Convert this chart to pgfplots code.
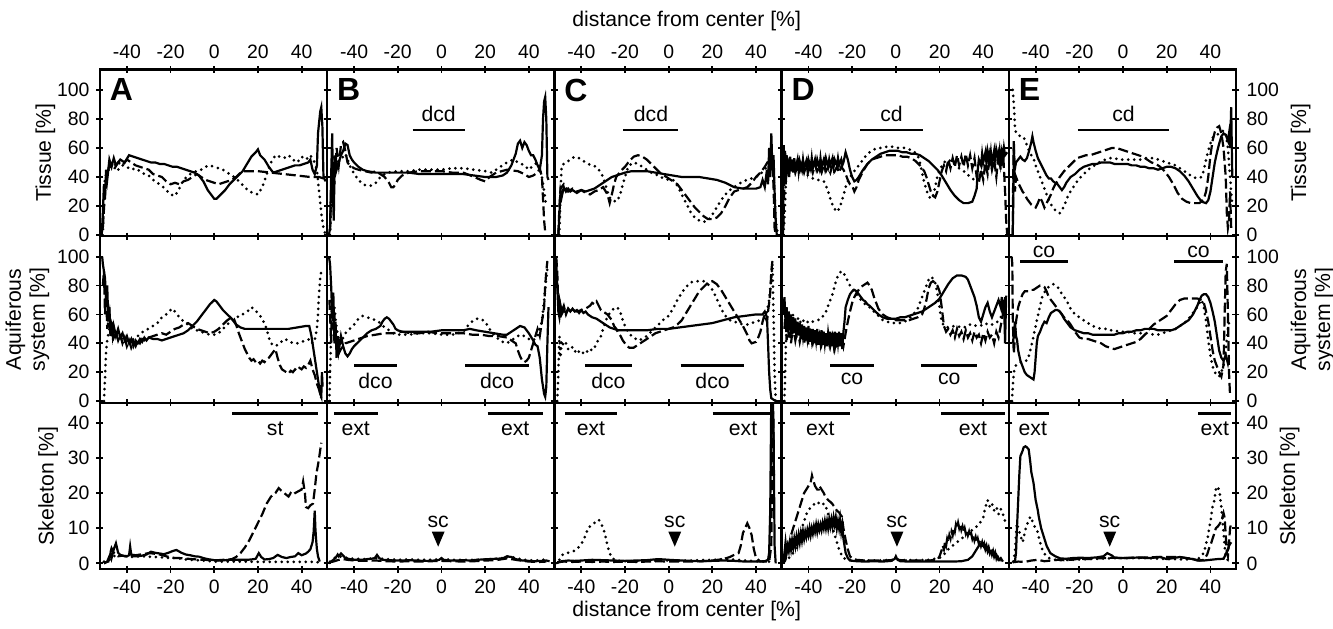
\documentclass[border=0pt]{standalone}
\usepackage{fontspec}
\setmainfont{Liberation Sans}
\usepackage{pgfplots}
\pgfplotsset{compat=1.18}

\pgfplotsset{
  panel/.style={
    scale only axis, width=113.6pt, height=83.3pt,
    anchor=north west,
    xmin=-52.3, xmax=51.7, xtick={-40,-20,0,20,40},
    tick align=center, xtick pos=both, ytick pos=both,
    axis line style={line width=1.1pt},
    major tick style={line width=0.9pt, black},
    major tick length=3.5pt,
    /pgf/number format/assume math mode=true,
    tick label style={font=\fontsize{9.7}{10}\selectfont},
    every axis label/.append style={font=\fontsize{10.6}{12}\selectfont},
  },
  toprow/.style={ymin=-0.7, ymax=114, ytick={0,20,...,100}, xticklabel pos=upper},
  midrow/.style={ymin=-1.1, ymax=114.2, ytick={0,20,...,100}, xticklabels={}},
  botrow/.style={ymin=-1.7, ymax=45.7, ytick={0,10,...,40}, xticklabel pos=lower},
  inner/.style={yticklabels={}},
  rightcol/.style={yticklabel pos=upper},
  sol/.style={black, line width=1.1pt},
  dsh/.style={black, line width=1.1pt, dash pattern=on 5pt off 2pt},
  dtt/.style={black, line width=1.5pt, dash pattern=on 0pt off 3pt, line cap=round},
}
\newcommand{\seg}[5]{\draw[line width=1.2pt] (axis cs:#1,#3) -- (axis cs:#2,#3) node[midway,#4,font=\fontsize{10.6}{12}\selectfont]{#5};}
\newcommand{\letter}[1]{\node[anchor=north west, inner sep=0pt, font=\bfseries\fontsize{16}{16}\selectfont] at ([xshift=4.8pt,yshift=-4.5pt]rel axis cs:0,1) {#1};}
\newcommand{\scmark}[1]{\fill (axis cs:#1,9) ++(-3.2pt,0pt) -- ++(6.4pt,0pt) -- ++(-3.2pt,-7.5pt) -- cycle;
  \node[font=\fontsize{10.6}{12}\selectfont] at (axis cs:#1,11.9) {sc};}

\begin{document}
\begin{tikzpicture}
% ---------------- row 1: Tissue ----------------
\begin{axis}[panel, toprow, at={(0pt,0pt)}, ylabel={Tissue [\%]}, ylabel shift=-6pt]
\addplot[sol] coordinates {(-51.5,0) (-51,15) (-50.5,35) (-50,25) (-49.5,45) (-49,38) (-48,52) (-47,47) (-46,53) (-45,48) (-43,52) (-41,50) (-39,55) (-37,54) (-35,53) (-33,52) (-31,51) (-29,50) (-27,50) (-25,49) (-23,49) (-21,48) (-19,47) (-17,47) (-15,46) (-13,45) (-11,44) (-9,43) (-7,41) (-5,37) (-3,31) (-1,27) (0,25) (1,25) (3,28) (5,31) (7,35) (9,38) (11,41) (13,44) (15,49) (17,54) (19,57) (20,59) (21,55) (23,52) (25,47) (27,43) (29,44) (31,45) (33,46) (35,47) (37,48) (39,48) (41,49) (43,50) (44,52) (45,45) (46,42) (47,48) (47.5,70) (48.5,85) (49,88) (49.5,75) (50,40) (51,37)};
\addplot[dsh] coordinates {(-51,5) (-50,30) (-49,42) (-48,48) (-46,45) (-44,50) (-42,48) (-40,52) (-38,50) (-36,48) (-34,47) (-32,46) (-30,45) (-28,42) (-26,41) (-24,40) (-22,37) (-20,35) (-18,36) (-16,35) (-14,37) (-12,38) (-10,40) (-8,42) (-6,40) (-4,38) (-2,37) (0,36) (2,35) (4,36) (6,37) (8,38) (10,40) (12,43) (14,44) (20,44) (26,43) (32,42) (38,41) (44,40) (48,40) (50,39) (51,37)};
\addplot[dtt] coordinates {(-51,0) (-50.5,25) (-50,40) (-48,46) (-46,50) (-44,45) (-42,48) (-40,47) (-38,45) (-36,46) (-34,44) (-32,42) (-30,41) (-28,38) (-26,36) (-24,34) (-22,31) (-20,28) (-18,27) (-16,32) (-14,38) (-12,41) (-10,43) (-8,44) (-6,45) (-4,47) (-2,48) (0,47) (2,46) (4,45) (6,43) (8,41) (10,39) (12,36) (14,33) (16,30) (18,29) (20,28) (22,33) (24,42) (26,50) (28,55) (30,54) (32,53) (34,55) (36,52) (38,50) (40,54) (42,52) (44,55) (46,50) (47,45) (48,30) (49,15) (50,5) (51,0)};
\letter{A}
\end{axis}

\begin{axis}[panel, toprow, inner, at={(113.6pt,0pt)}]
\addplot[sol] coordinates {(-51.5,0) (-51,5) (-50.5,40) (-50,70) (-49.7,30) (-49.3,10) (-49,40) (-48.5,55) (-48,45) (-47,50) (-46,55) (-45,58) (-44,63) (-43,62) (-42,55) (-41,52) (-40,50) (-38,47) (-36,45) (-34,44) (-30,43) (-25,43) (-20,43) (-15,43) (-10,42) (-5,42) (0,42) (5,42) (10,42) (15,41) (20,40) (25,40) (28,41) (30,43) (32,48) (34,56) (35,63) (36,65) (37,60) (38,64) (39,62) (40,58) (41,55) (42,55) (43,52) (44,48) (45,45) (46,55) (46.5,80) (47,92) (47.5,95) (48,80) (48.5,40) (49,38)};
\addplot[dsh] coordinates {(-51,3) (-50.5,30) (-50,55) (-49,35) (-48,60) (-47,48) (-46,62) (-45,64) (-44,58) (-43,50) (-42,48) (-40,46) (-38,45) (-35,44) (-32,43) (-30,44) (-28,42) (-26,40) (-24,36) (-23,33) (-22,33) (-21,35) (-20,38) (-18,41) (-15,43) (-10,44) (-5,44) (0,44) (5,43) (10,43) (15,40) (18,38) (20,37) (22,40) (25,43) (30,45) (35,44) (38,42) (40,40) (42,41) (44,43) (45,46) (46,40) (46.5,25) (47,10) (47.5,2)};
\addplot[dtt] coordinates {(-51,0) (-50.5,20) (-50,45) (-49,55) (-48,50) (-46,52) (-44,56) (-42,48) (-40,42) (-38,38) (-36,35) (-34,34) (-32,34) (-30,36) (-28,40) (-25,43) (-20,44) (-15,44) (-10,45) (-5,45) (0,45) (5,46) (10,46) (15,45) (20,44) (23,43) (25,45) (28,48) (30,50) (33,52) (35,50) (38,48) (40,45) (42,48) (44,50) (45,45) (46,40) (47,30) (48,20)};
\seg{-13.2}{10.6}{72.4}{above}{dcd}
\letter{B}
\end{axis}

\begin{axis}[panel, toprow, inner, at={(227.2pt,0pt)}]
\addplot[sol] coordinates {(-50.5,0) (-50,15) (-49.5,30) (-49,26) (-48,33) (-47,30) (-46,32) (-45,30) (-44,31) (-42,29) (-40,31) (-38,30) (-36,31) (-34,32) (-32,34) (-30,36) (-28,38) (-26,40) (-24,41) (-22,42) (-20,43) (-17,44) (-14,44) (-10,44) (-6,43) (-2,42) (2,41) (6,40) (10,40) (14,40) (18,39) (22,38) (26,36) (30,33) (34,32) (38,32) (40,32) (42,33) (43,38) (44,33) (45,45) (45.5,35) (46,60) (46.5,40) (47,70) (47.5,45) (48,55) (48.5,30) (49,10) (49.5,0)};
\addplot[dsh] coordinates {(-50.5,0) (-50,20) (-49.5,32) (-48,35) (-46,30) (-44,32) (-42,30) (-40,31) (-38,29) (-36,28) (-34,30) (-32,31) (-30,33) (-28,28) (-27,22) (-26,28) (-25,35) (-24,40) (-22,44) (-20,47) (-18,51) (-16,54) (-14,55) (-12,54) (-10,52) (-8,49) (-6,46) (-4,43) (-2,41) (0,39) (2,37) (4,35) (6,31) (8,27) (10,23) (12,19) (14,16) (16,13) (18,11) (20,11) (22,12) (24,15) (26,20) (28,26) (30,30) (32,31) (34,32) (36,33) (38,36) (40,40) (42,43) (44,47) (46,52) (47,60) (48,35) (48.5,5) (49,0)};
\addplot[dtt] coordinates {(-50,0) (-49.5,30) (-49,48) (-47,50) (-45,52) (-43,54) (-41,53) (-39,51) (-37,49) (-35,48) (-33,47) (-31,43) (-30,40) (-29,35) (-28,30) (-27,26) (-26,24) (-24,23) (-23,25) (-22,29) (-21,35) (-20,40) (-19,45) (-18,48) (-16,50) (-14,49) (-12,47) (-10,45) (-8,43) (-6,42) (-4,40) (-2,39) (0,38) (2,38) (4,34) (6,28) (8,22) (10,16) (12,12) (14,10) (16,9) (18,10) (20,14) (22,19) (24,24) (26,28) (28,31) (30,33) (32,35) (34,37) (36,38) (38,39) (40,40) (42,42) (44,45) (46,50) (47,55) (48,40) (49,10) (50,0)};
\seg{-20.7}{4.5}{72.4}{above}{dcd}
\letter{C}
\end{axis}

\begin{axis}[panel, toprow, inner, at={(340.8pt,0pt)}]
\addplot[sol] coordinates {(-51.7,0) (-51.3,62) (-51,40) (-50.7,58) (-50.4,35) (-50,55) (-49.6,42) (-49.2,52) (-48.8,40) (-48.4,54) (-48,44) (-47.5,52) (-47,43) (-46.5,53) (-46,45) (-45,52) (-44.5,44) (-44,51) (-43,45) (-42.5,52) (-42,46) (-41,51) (-40.5,45) (-40,52) (-39,46) (-38.5,53) (-38,46) (-37,52) (-36.5,47) (-36,52) (-35,46) (-34.5,53) (-34,47) (-33,52) (-32.5,47) (-32,53) (-31,47) (-30.5,52) (-30,48) (-29,53) (-28.5,47) (-28,52) (-27,48) (-26.5,53) (-26,48) (-25,52) (-24.5,48) (-24,50) (-23,57) (-22,52) (-21,45) (-20,40) (-19,37) (-18,38) (-17,40) (-15,45) (-13,49) (-11,52) (-9,54) (-7,56) (-5,57) (-3,58) (-1,58) (1,58) (3,57) (5,57) (7,56) (9,56) (11,55) (13,53) (15,51) (17,48) (19,45) (21,41) (23,36) (25,31) (27,27) (29,24) (31,22) (33,22) (35,23) (36,27) (37,32) (37.5,45) (38,52) (39,48) (39.5,56) (40,50) (41,57) (41.5,49) (42,58) (43,50) (43.5,57) (44,49) (45,58) (45.5,50) (46,59) (47,52) (47.5,58) (48,50) (48.5,57) (49,52) (49.5,60) (50,55) (51,57)};
\addplot[dsh] coordinates {(-51.5,5) (-51,40) (-50.5,50) (-50,42) (-49,50) (-48,44) (-47,49) (-46,43) (-45,48) (-44,44) (-43,49) (-42,43) (-41,48) (-40,44) (-39,49) (-38,43) (-37,48) (-36,44) (-35,47) (-34,43) (-33,48) (-32,44) (-31,47) (-30,43) (-29,48) (-28,44) (-27,47) (-26,43) (-25,47) (-24,45) (-23,42) (-22,38) (-21,35) (-20,34) (-19,30) (-18,33) (-17,38) (-15,44) (-13,49) (-11,52) (-9,53) (-7,54) (-5,55) (-3,55) (-1,55) (1,55) (3,54) (5,54) (7,53) (9,51) (11,48) (13,44) (14,40) (15,35) (16,30) (17,27) (18,26) (19,30) (20,37) (21,44) (22,48) (23,44) (24,52) (25,46) (26,53) (27,47) (28,55) (29,48) (30,54) (31,47) (32,56) (33,48) (34,55) (35,46) (36,53) (37,40) (38,36) (39,45) (40,38) (41,50) (42,42) (43,55) (44,45) (45,52) (46,40) (47,55) (48,45) (49,60) (50,30) (50.5,10) (51,0)};
\addplot[dtt] coordinates {(-51.5,0) (-51,10) (-50.5,30) (-50,50) (-49,46) (-47,48) (-45,45) (-43,44) (-41,42) (-39,40) (-37,38) (-35,38) (-33,37) (-32,34) (-31,30) (-30,25) (-29,21) (-28,18) (-27,16) (-26,18) (-25,22) (-24,27) (-23,33) (-22,37) (-20,42) (-18,46) (-16,50) (-14,54) (-12,57) (-10,59) (-8,60) (-6,60) (-4,61) (-2,61) (0,60) (2,60) (4,60) (6,59) (8,58) (10,55) (11,50) (12,43) (13,36) (14,31) (15,27) (16,25) (17,27) (18,33) (19,40) (20,45) (22,50) (24,52) (26,50) (28,47) (30,45) (32,43) (34,40) (36,38) (38,42) (40,45) (42,47) (44,50) (46,52) (48,55) (50,58)};
\seg{-16.3}{12.3}{72.4}{above}{cd}
\letter{D}
\end{axis}

\begin{axis}[panel, toprow, rightcol, at={(454.4pt,0pt)}, ylabel={Tissue [\%]}, ylabel shift=-1pt]
\addplot[sol] coordinates {(-50.5,0) (-50.2,30) (-50,60) (-49.6,45) (-49,50) (-48,52) (-47,54) (-46,52) (-45,51) (-44,53) (-43,58) (-42,64) (-41.5,68) (-41,64) (-40,58) (-39,53) (-38,50) (-37,47) (-36,44) (-35,41) (-34,39) (-33,39) (-32,37) (-31,36) (-30,35) (-29,33) (-28,31) (-27,33) (-26,36) (-25,38) (-24,40) (-22,42) (-20,45) (-18,47) (-16,48) (-14,49) (-12,49) (-10,50) (-8,50) (-6,50) (-4,49) (-2,49) (0,49) (2,49) (4,48) (6,48) (8,47) (10,47) (12,46) (14,46) (16,45) (18,46) (20,47) (22,47) (24,46) (26,44) (28,41) (30,37) (32,32) (34,27) (36,23) (38,22) (39,24) (40,30) (41,40) (42,50) (43,57) (44,63) (45,68) (46,70) (47,69) (48,65) (48.5,70) (49,60) (49.5,88) (50,40)};
\addplot[dsh] coordinates {(-50.5,0) (-50.3,40) (-50,65) (-49.5,30) (-49,40) (-48,36) (-47,33) (-46,30) (-45,28) (-44,25) (-43,23) (-42,21) (-41,20) (-40,19) (-39,22) (-38,26) (-37,23) (-36,19) (-35,22) (-34,25) (-33,28) (-32,32) (-31,35) (-30,37) (-29,40) (-27,44) (-25,47) (-23,50) (-21,53) (-19,54) (-17,55) (-15,55) (-13,56) (-11,57) (-9,58) (-7,59) (-5,60) (-3,60) (-1,59) (1,58) (3,57) (5,56) (7,55) (9,54) (11,52) (13,50) (15,49) (17,47) (19,44) (21,40) (23,35) (25,29) (27,25) (29,23) (31,22) (33,22) (35,22) (37,25) (38,30) (39,40) (40,55) (41,65) (42,71) (43,74) (44,75) (45,70) (46,60) (47,40) (47.5,15) (48,5) (48.5,10) (49,30) (49.5,5)};
\addplot[dtt] coordinates {(-50.5,100) (-50,90) (-49.5,75) (-49,70) (-48,69) (-47,68) (-46,68) (-45,66) (-44,62) (-43,58) (-42,55) (-41,53) (-40,48) (-39,44) (-38,40) (-37,36) (-36,32) (-35,28) (-34,24) (-33,21) (-32,19) (-31,17) (-30,16) (-29,15) (-28,17) (-27,20) (-26,24) (-25,28) (-24,30) (-22,35) (-20,39) (-18,42) (-16,45) (-14,47) (-12,49) (-10,51) (-8,52) (-6,53) (-4,53) (-2,52) (0,52) (2,52) (4,52) (6,52) (8,52) (10,53) (12,53) (14,53) (16,52) (18,51) (20,50) (22,49) (24,48) (26,46) (28,44) (30,42) (32,40) (34,39) (36,40) (37,45) (38,52) (39,58) (40,63) (41,67) (42,68) (44,70) (46,72) (47,70) (48,60) (49,40) (50,20)};
\seg{-20.7}{21.1}{72.4}{above}{cd}
\letter{E}
\end{axis}

% ---------------- row 2: Aquiferous system ----------------
\begin{axis}[panel, midrow, at={(0pt,-83.3pt)}, ylabel={Aquiferous\\system [\%]}, ylabel style={align=center}, ylabel shift=-3pt]
\addplot[sol] coordinates {(-51.3,100) (-51,95) (-50.5,90) (-50,85) (-49.5,70) (-49,80) (-48.5,55) (-48,65) (-47.5,45) (-47,55) (-46.5,46) (-46,52) (-45,45) (-44,50) (-43,44) (-42,47) (-41,42) (-40,45) (-39,40) (-38,43) (-37,38) (-36,42) (-35,40) (-34,43) (-33,41) (-32,44) (-31,42) (-30,44) (-28,43) (-26,43) (-24,42) (-22,43) (-20,44) (-18,45) (-16,46) (-14,47) (-12,49) (-10,52) (-8,55) (-6,59) (-4,63) (-2,67) (0,70) (1,69) (2,67) (4,63) (6,60) (8,57) (10,53) (12,51) (14,50) (18,50) (22,50) (26,50) (30,50) (34,50) (38,51) (42,52) (43.5,52) (44.5,45) (45.5,35) (46.5,25) (47.5,15) (48,10) (48.5,5) (49,3) (49.3,20) (49.6,10)};
\addplot[dsh] coordinates {(-51,80) (-50.5,90) (-50,60) (-49.5,75) (-49,50) (-48,60) (-47.5,45) (-47,52) (-46,44) (-45,48) (-44,42) (-43,46) (-42,40) (-41,44) (-40,38) (-39,42) (-38,37) (-37,41) (-36,38) (-35,42) (-34,40) (-33,43) (-32,42) (-30,44) (-28,45) (-26,46) (-24,47) (-22,46) (-20,48) (-18,50) (-16,51) (-14,53) (-12,54) (-10,52) (-8,50) (-6,49) (-4,48) (-2,47) (0,48) (2,50) (4,53) (6,56) (8,58) (9,57) (10,53) (11,48) (12,44) (13,40) (14,36) (15,33) (16,30) (17,28) (18,29) (19,27) (20,28) (21,26) (22,28) (23,27) (24,29) (25,30) (26,32) (27,34) (28,36) (29,30) (30,25) (31,22) (32,21) (33,20) (34,19) (35,21) (36,20) (37,22) (38,21) (39,23) (40,22) (41,24) (42,23) (43,25) (44,28) (45,22) (46,18) (47,12) (48,8) (48.5,5) (49,2)};
\addplot[dtt] coordinates {(-50.5,0) (-50,15) (-49.5,35) (-49,42) (-48,50) (-47,45) (-46,48) (-44,44) (-42,43) (-40,42) (-38,42) (-36,44) (-34,46) (-32,49) (-30,50) (-28,52) (-26,54) (-24,58) (-22,60) (-20,63) (-19,64) (-18,62) (-16,58) (-14,55) (-12,53) (-10,50) (-8,49) (-6,48) (-4,47) (-2,46) (0,46) (2,47) (4,50) (6,53) (8,56) (10,58) (12,59) (14,61) (16,63) (17,65) (18,64) (20,61) (22,57) (24,50) (25,44) (26,40) (28,38) (30,40) (32,43) (34,42) (36,40) (38,40) (40,41) (42,42) (44,43) (45,40) (46,42) (47,50) (47.5,60) (48,75) (48.5,85) (49,90)};
\end{axis}

\begin{axis}[panel, midrow, inner, at={(113.6pt,-83.3pt)}]
\addplot[sol] coordinates {(-51.5,100) (-51,95) (-50.5,80) (-50,60) (-49.5,75) (-49,40) (-48.5,55) (-48,30) (-47.5,45) (-47,35) (-46,45) (-45,38) (-44,33) (-43,31) (-42,33) (-41,36) (-40,38) (-38,41) (-36,44) (-34,47) (-32,49) (-30,50) (-28,52) (-27,55) (-26,57) (-25,58) (-24,57) (-23,55) (-22,53) (-21,50) (-20,49) (-18,48) (-15,48) (-10,48) (-5,48) (0,49) (5,49) (10,49) (13,50) (16,49) (20,48) (24,47) (28,46) (30,46) (32,48) (34,50) (36,52) (38,51) (40,47) (42,42) (43,39) (44,38) (45,30) (46,15) (47,5) (47.5,3) (48,10) (48.5,40) (49,65)};
\addplot[dsh] coordinates {(-51.3,70) (-51,60) (-50.5,40) (-50,75) (-49.5,50) (-49,60) (-48.5,40) (-48,45) (-47,33) (-46,36) (-45,38) (-44,40) (-42,41) (-40,42) (-38,43) (-36,44) (-34,45) (-30,46) (-26,47) (-22,47) (-18,48) (-14,47) (-10,47) (-6,48) (-2,47) (2,47) (6,47) (10,47) (14,46) (18,46) (22,45) (26,45) (30,44) (32,42) (34,40) (35,35) (36,31) (37,28) (38,27) (39,28) (40,30) (41,35) (42,40) (43,45) (44,50) (45,45) (46,55) (47,65) (47.5,80) (48,90) (48.5,97)};
\addplot[dtt] coordinates {(-51.3,0) (-51,20) (-50.5,45) (-50,70) (-49.5,55) (-49,65) (-48,50) (-47,43) (-46,40) (-45,44) (-44,47) (-42,50) (-40,53) (-38,57) (-36,59) (-34,58) (-32,57) (-30,56) (-28,54) (-26,51) (-24,49) (-22,47) (-20,46) (-15,46) (-10,47) (-5,47) (0,46) (5,46) (10,48) (12,52) (14,55) (16,57) (18,57) (20,55) (22,50) (24,46) (26,43) (28,41) (30,40) (32,42) (34,44) (36,46) (38,45) (40,43) (42,42) (44,45) (46,55) (47,70) (48,85) (48.5,92)};
\seg{-40}{-20.4}{24.6}{below}{dco}
\seg{11}{40}{24.6}{below}{dco}
\end{axis}

\begin{axis}[panel, midrow, inner, at={(227.2pt,-83.3pt)}]
\addplot[sol] coordinates {(-52,100) (-51.5,98) (-51,80) (-50.5,62) (-50,58) (-49.5,65) (-49,60) (-48,63) (-47,61) (-46,64) (-45,62) (-44,64) (-43,62) (-42,63) (-41,61) (-40,63) (-39,61) (-38,62) (-37,60) (-36,59) (-35,58) (-33,57) (-31,55) (-29,53) (-27,51) (-25,50) (-23,49) (-20,49) (-15,49) (-10,49) (-5,50) (0,50) (5,51) (10,52) (15,53) (20,54) (25,56) (30,58) (35,59) (40,60) (43,60) (44,62) (45,58) (45.5,40) (46,20) (46.5,8) (47,2) (48,1) (49,0) (50,0)};
\addplot[dsh] coordinates {(-51.5,100) (-51,90) (-50.5,65) (-50,70) (-49,62) (-48,66) (-47,60) (-46,64) (-45,62) (-44,63) (-42,62) (-40,63) (-38,64) (-36,66) (-35,68) (-34,67) (-33,69) (-32,66) (-31,63) (-30,62) (-29,61) (-28,60) (-27,58) (-26,56) (-25,52) (-24,50) (-23,47) (-22,45) (-21,42) (-20,40) (-19,38) (-18,37) (-17,37) (-16,37) (-15,38) (-14,39) (-12,41) (-10,43) (-8,45) (-6,47) (-4,48) (-2,49) (0,50) (2,51) (4,53) (6,56) (8,61) (10,66) (12,71) (14,76) (16,79) (18,82) (20,83) (22,81) (24,77) (26,72) (28,67) (30,62) (32,57) (34,52) (36,46) (37,42) (38,40) (40,41) (41,44) (42,48) (43,55) (44,60) (45,55) (45.5,62) (46,68) (46.5,75) (47,90) (47.5,97)};
\addplot[dtt] coordinates {(-51,0) (-50.5,20) (-50,45) (-49.5,30) (-49,42) (-48,38) (-47,40) (-46,36) (-45,38) (-44,37) (-43,34) (-42,36) (-41,34) (-40,35) (-39,33) (-38,35) (-37,34) (-36,36) (-35,35) (-34,37) (-33,40) (-32,43) (-31,45) (-30,50) (-29,55) (-28,58) (-27,61) (-26,63) (-25,64) (-24,65) (-23,64) (-22,61) (-21,56) (-20,52) (-19,49) (-18,47) (-17,45) (-16,44) (-15,43) (-14,42) (-12,43) (-10,45) (-8,48) (-6,51) (-4,54) (-2,57) (0,59) (2,64) (4,70) (6,75) (8,79) (10,82) (12,83) (14,83) (16,83) (18,81) (20,77) (22,71) (24,64) (26,59) (28,56) (30,55) (32,54) (34,53) (36,53) (38,54) (40,55) (42,56) (44,58) (45,62) (46,70) (47,85) (47.5,95) (48,60) (48.5,20) (49,0)};
\seg{-38.4}{-16.8}{24.6}{below}{dco}
\seg{5.5}{34.7}{24.6}{below}{dco}
\end{axis}

\begin{axis}[panel, midrow, inner, at={(340.8pt,-83.3pt)}]
\addplot[sol] coordinates {(-51.5,60) (-51,72) (-50.5,55) (-50,65) (-49.5,48) (-49,62) (-48.5,50) (-48,60) (-47.5,46) (-47,58) (-46.5,47) (-46,56) (-45.5,44) (-45,55) (-44.5,46) (-44,54) (-43.5,43) (-43,53) (-42.5,45) (-42,52) (-41.5,42) (-41,51) (-40.5,44) (-40,52) (-39.5,41) (-39,50) (-38.5,43) (-38,50) (-37.5,40) (-37,49) (-36.5,42) (-36,50) (-35.5,39) (-35,48) (-34.5,41) (-34,49) (-33.5,39) (-33,48) (-32.5,40) (-32,47) (-31.5,38) (-31,47) (-30.5,41) (-30,48) (-29.5,38) (-29,47) (-28.5,40) (-28,48) (-27.5,37) (-27,47) (-26.5,40) (-26,48) (-25.5,38) (-25,47) (-24.5,36) (-24,48) (-23.5,55) (-23,65) (-22,70) (-21,74) (-20,76) (-19,77) (-18,76) (-17,74) (-16,72) (-15,70) (-14,69) (-13,67) (-12,66) (-10,63) (-8,60) (-6,58) (-4,57) (-2,57) (0,57) (2,58) (4,58) (6,59) (8,60) (10,61) (12,62) (14,64) (16,66) (18,68) (20,71) (22,76) (24,81) (26,85) (28,87) (30,87) (32,86) (33,84) (34,80) (35,76) (36,72) (37,66) (38,58) (39,55) (40,60) (41,65) (42,68) (43,62) (44,58) (45,62) (46,66) (47,70) (48,65) (48.5,72) (49,60) (49.5,70) (50,40) (50.5,73)};
\addplot[dsh] coordinates {(-51,50) (-50.5,62) (-50,42) (-49.5,58) (-49,44) (-48.5,55) (-48,40) (-47,52) (-46,42) (-45,50) (-44,41) (-43,49) (-42,40) (-41,48) (-40,39) (-39,47) (-38,40) (-37,46) (-36,38) (-35,46) (-34,39) (-33,45) (-32,37) (-31,46) (-30,38) (-29,45) (-28,36) (-27,44) (-26,37) (-25,45) (-24,38) (-23,47) (-22,55) (-21,62) (-20,68) (-19,72) (-18,75) (-17,77) (-16,79) (-15,80) (-14,81) (-13,82) (-12,80) (-11,77) (-10,72) (-9,68) (-8,64) (-6,60) (-4,58) (-2,57) (0,56) (2,56) (4,56) (6,56) (8,57) (10,58) (12,60) (13,64) (14,70) (15,78) (16,82) (17,83) (18,82) (19,80) (20,76) (21,65) (22,52) (23,48) (24,50) (25,46) (26,49) (27,44) (28,50) (29,45) (30,48) (31,43) (32,49) (33,44) (34,47) (35,42) (36,48) (37,44) (38,46) (39,40) (40,47) (41,42) (42,48) (43,44) (44,46) (45,40) (46,48) (47,44) (48,52) (49,60) (50,72)};
\addplot[dtt] coordinates {(-51,0) (-50.5,30) (-50,55) (-49,58) (-48,55) (-47,60) (-46,56) (-45,58) (-44,54) (-43,57) (-42,55) (-41,56) (-40,54) (-38,55) (-36,56) (-34,57) (-33,60) (-32,62) (-31,66) (-30,70) (-29,74) (-28,80) (-27,85) (-26,88) (-25,90) (-24,89) (-23,86) (-22,83) (-21,80) (-20,78) (-18,74) (-16,70) (-14,67) (-12,65) (-10,62) (-8,59) (-6,56) (-4,55) (-2,54) (0,54) (2,54) (4,55) (6,57) (8,60) (10,64) (12,72) (14,80) (15,84) (16,86) (17,85) (18,82) (19,75) (20,65) (21,55) (22,52) (24,51) (26,52) (28,51) (30,52) (32,51) (34,53) (36,52) (38,53) (40,52) (42,54) (44,53) (46,54) (48,58) (50,62)};
\seg{-30}{-10.2}{24.6}{below}{co}
\seg{11.6}{37.3}{24.6}{below}{co}
\end{axis}

\begin{axis}[panel, midrow, rightcol, at={(454.4pt,-83.3pt)}, ylabel={Aquiferous\\system [\%]}, ylabel style={align=center}, ylabel shift=-1pt]
\addplot[sol] coordinates {(-50.5,40) (-50,45) (-49.5,55) (-49,45) (-48.5,42) (-48,35) (-47,28) (-46,24) (-45,20) (-44,18) (-43,17) (-42,16) (-41,15) (-40.5,20) (-40,30) (-39.5,40) (-39,45) (-38,48) (-37,52) (-36,55) (-35,54) (-34,58) (-33,61) (-32,62) (-31,63) (-30,63) (-29,62) (-28,60) (-27,57) (-26,55) (-25,53) (-24,51) (-22,49) (-20,48) (-18,47) (-16,47) (-14,46) (-12,46) (-10,46) (-8,46) (-6,46) (-4,46) (-2,47) (0,47) (2,48) (4,48) (6,49) (8,49) (10,50) (12,50) (14,50) (16,49) (18,49) (20,49) (22,49) (24,50) (26,52) (28,54) (30,56) (32,60) (34,66) (35,70) (36,73) (37,74) (38,74) (39,72) (40,68) (41,62) (42,55) (43,45) (44,35) (45,30) (46,28) (47,32) (48,26) (48.5,30)};
\addplot[dsh] coordinates {(-51,100) (-50.7,95) (-50.5,60) (-50.2,40) (-50,33) (-49.5,45) (-49,55) (-48,65) (-47,70) (-46,74) (-45,76) (-44,76) (-43,76) (-42,77) (-41,77) (-40,78) (-39,79) (-38,80) (-37,80) (-36,79) (-35,76) (-34,72) (-33,70) (-32,68) (-31,66) (-30,64) (-29,62) (-28,60) (-27,58) (-26,56) (-25,55) (-24,53) (-22,48) (-20,44) (-18,43) (-16,43) (-14,42) (-12,41) (-10,40) (-8,38) (-6,37) (-4,36) (-2,37) (0,38) (2,39) (4,40) (6,41) (8,43) (10,46) (12,50) (14,53) (16,55) (18,57) (20,59) (22,63) (24,67) (26,70) (28,71) (30,71) (32,71) (34,71) (36,70) (37,68) (38,62) (39,55) (40,45) (41,35) (42,28) (43,24) (44,20) (45,17) (46,25) (46.5,60) (47,90) (47.5,95) (48,60) (48.5,20) (49,3)};
\addplot[dtt] coordinates {(-50.8,0) (-50.5,10) (-50,20) (-49,25) (-48,26) (-47,27) (-46,27) (-45,28) (-44,28) (-43,32) (-42,38) (-41,45) (-40,52) (-39,59) (-38,66) (-37,72) (-36,75) (-35,78) (-34,79) (-33,80) (-32,81) (-31,80) (-30,79) (-29,77) (-28,74) (-27,72) (-26,70) (-25,67) (-24,64) (-23,62) (-22,60) (-20,58) (-18,56) (-16,54) (-14,52) (-12,51) (-10,50) (-8,50) (-6,49) (-4,49) (-2,48) (0,48) (2,48) (4,47) (6,47) (8,47) (10,47) (12,47) (14,46) (16,46) (18,47) (20,48) (22,49) (24,50) (26,52) (28,54) (30,57) (32,61) (34,65) (35,68) (36,70) (37,65) (38,55) (39,42) (40,32) (41,24) (42,20) (43,18) (44,17) (45,20) (46,25) (47,35) (48,50) (48.7,56)};
\draw[line width=1.2pt] (axis cs:-47,96.6) -- (axis cs:-25.3,96.6) node[midway,above,inner sep=1.2pt,font=\fontsize{10.6}{12}\selectfont]{co};
\draw[line width=1.2pt] (axis cs:23.4,96.6) -- (axis cs:45.7,96.6) node[midway,above,inner sep=1.2pt,font=\fontsize{10.6}{12}\selectfont]{co};
\end{axis}

% ---------------- row 3: Skeleton ----------------
\begin{axis}[panel, botrow, at={(0pt,-166.6pt)}, ylabel={Skeleton [\%]}, ylabel shift=-2pt]
\addplot[sol] coordinates {(-50.5,0) (-49.5,0.3) (-48.5,0.5) (-47.5,2.9) (-47,1.5) (-46,4) (-45,5.7) (-44,3) (-43,2.4) (-42,2.2) (-41,2) (-40,2) (-39,2.3) (-38.5,4.8) (-38,2.5) (-37,2) (-35,2) (-33,2.2) (-31,2.5) (-29,3.3) (-27,3) (-25,2.8) (-23,2.6) (-21,3) (-19,3.5) (-17.3,3.8) (-15,3) (-13,2.5) (-11,2.3) (-9,2) (-7,1.9) (-5,1.5) (-3,1.2) (-1,1) (1,0.8) (3,0.8) (5,0.9) (7,1) (9,1) (11,1) (13,1) (15,1) (17,1.1) (19,1.3) (20.4,2.9) (21.5,1.8) (23,1.1) (25,1.2) (27,1.5) (29,2.4) (31,1.8) (33,1.5) (35,1.8) (37,2) (38.5,2.9) (40,2.3) (42,2.8) (43,3.3) (44,4) (45,6) (45.5,9) (46,15) (46.3,10) (46.6,7) (47,4) (47.5,2) (48.3,0.5)};
\addplot[dsh] coordinates {(-50.5,0) (-49,0.5) (-48,2) (-47,4.3) (-46,3) (-45,2.5) (-44,2) (-42,2.2) (-40,2) (-38,2.5) (-36,2.3) (-34,2.5) (-32,2.7) (-30,2.9) (-28,2.8) (-26,2.6) (-24,2.4) (-22,2) (-20,1.7) (-18,1.5) (-16,1.5) (-14,1.4) (-12,1.3) (-10,1.2) (-8,1.1) (-6,1) (-4,1) (-2,0.9) (0,0.9) (2,0.9) (4,1) (6,1) (8,1.2) (10,1.8) (12,2.9) (14,4.5) (16,6.5) (18,9) (20,11.5) (22,14) (24,17) (26,19) (28,20) (29.5,21.4) (31,20.5) (33,19.5) (34,19) (35,20) (36,19.5) (37,20) (38.5,20.5) (40,21) (40.7,23.3) (41.5,20) (42,16) (43,15.7) (44,16.5) (45.2,17) (46,21) (46.8,25.7) (47.5,28) (48,30) (49,34.3)};
\addplot[dtt] coordinates {(-50.5,0.5) (-48,1) (-46,2) (-44,2.4) (-42,2.3) (-40,2) (-38,1.8) (-36,1.9) (-34,2) (-32,2) (-30,1.9) (-28,1.8) (-26,1.8) (-24,1.7) (-22,1.6) (-20,1.5) (-18,1.5) (-16,1.4) (-14,1.2) (-12,1) (-10,1) (-8,0.9) (-6,0.8) (-4,0.7) (0,0.5) (5,0.5) (10,0.5) (15,0.5) (20,0.4) (25,0.4) (30,0.4) (35,0.4) (40,0.4) (45,0.4) (48,0.3)};
\seg{8.3}{47.5}{42.6}{below}{st}
\end{axis}

\begin{axis}[panel, botrow, inner, at={(113.6pt,-166.6pt)}]
\addplot[sol] coordinates {(-51.5,0) (-50.5,0.5) (-49.5,1) (-48.5,1.5) (-47.5,2.5) (-47,2) (-46,2.8) (-45,2.2) (-44,1.5) (-42,1.2) (-40,1) (-38,1) (-36,1) (-34,1.2) (-32,1.3) (-30.5,1.5) (-29.5,2.4) (-28.5,1.5) (-27,1) (-24,0.9) (-21,0.8) (-18,0.8) (-15,0.9) (-12,0.8) (-9,0.7) (-6,0.7) (-3,0.8) (-1,1) (0,1.5) (1,1) (4,0.8) (7,0.8) (10,0.9) (13,0.8) (16,1) (19,1.1) (22,1.2) (25,1.3) (28,1.4) (30,2) (32,1.8) (34,1.2) (37,0.8) (40,0.7) (43,0.6) (46,0.7) (48,0.8) (49.5,0.6)};
\addplot[dsh] coordinates {(-51,0.3) (-49,0.6) (-47,1) (-45,1.2) (-43,1) (-40,0.8) (-35,0.7) (-30,0.8) (-25,0.6) (-20,0.5) (-15,0.6) (-10,0.5) (-5,0.6) (0,0.7) (5,0.6) (10,0.5) (15,0.6) (20,0.8) (25,0.9) (30,1.4) (35,0.9) (40,0.5) (45,0.4) (48,0.5)};
\addplot[dtt] coordinates {(-51,0.5) (-49,1.5) (-47,2) (-45,1.8) (-43,1.5) (-40,1.3) (-35,1.2) (-30,1.5) (-25,1.2) (-20,1) (-15,1.1) (-10,1) (-5,1) (0,1.2) (5,1) (10,1) (15,1) (20,1.1) (25,1.3) (28,1.5) (31,2) (34,1.5) (38,1) (42,0.8) (46,0.9) (49,1.5)};
\seg{-49.3}{-29.2}{42.6}{below}{ext}
\seg{21.1}{46.4}{42.6}{below}{ext}
\scmark{-1.5}
\end{axis}

\begin{axis}[panel, botrow, inner, at={(227.2pt,-166.6pt)}]
\addplot[sol] coordinates {(-51.5,0) (-49,0.6) (-46,0.8) (-43,0.7) (-40,0.8) (-35,1) (-30,0.9) (-25,0.8) (-20,0.7) (-15,0.8) (-10,0.9) (-5,1.2) (-2,1.1) (0,1) (3,0.9) (6,0.8) (10,0.7) (15,0.6) (20,0.7) (25,0.8) (30,0.7) (35,0.5) (40,0.5) (44,0.6) (45.5,1) (46,3) (46.5,15) (46.8,35) (47,48) (47.5,50) (48,40) (48.2,25) (48.5,5) (49,0)};
\addplot[dsh] coordinates {(-51,0.3) (-48,0.5) (-44,0.4) (-40,0.5) (-35,0.4) (-30,0.5) (-25,0.4) (-20,0.5) (-15,0.4) (-10,0.5) (-5,0.6) (0,0.5) (5,0.5) (10,0.5) (15,0.6) (20,0.8) (25,1.2) (28,1.8) (30,2.4) (32,2.9) (33,5) (34,8.6) (35,10) (36,11.4) (37,10) (38,8) (39,4) (40,1.5) (42,0.5) (44,0.5) (46,0.5) (47,5) (47.3,25) (47.6,45) (47.9,40) (48.2,25)};
\addplot[dtt] coordinates {(-50,1) (-48.7,2.4) (-46,3) (-44,3.3) (-42,4) (-40,5.5) (-38,8) (-37,10) (-36,10.5) (-35,11) (-34,11.5) (-33,12) (-32,12.4) (-31,11.5) (-30,10) (-29,8) (-28,5) (-27,3) (-26,1.5) (-24,0.8) (-20,0.6) (-15,0.6) (-10,0.7) (-5,0.7) (0,0.8) (5,0.8) (10,0.8) (15,0.9) (20,1) (25,1.2) (30,1.1) (35,0.8) (40,0.6) (44,0.5) (46,0.5)};
\seg{-47.5}{-23.6}{42.6}{below}{ext}
\seg{20.1}{48}{42.6}{below}{ext}
\scmark{2.8}
\end{axis}

\begin{axis}[panel, botrow, inner, at={(340.8pt,-166.6pt)}]
\addplot[sol] coordinates {(-51.5,0) (-51,3) (-50.5,6) (-50,3) (-49.5,5) (-49,3.5) (-48.5,6) (-48,4) (-47.5,6.5) (-47,4.5) (-46.5,7) (-46,5) (-45.5,7.5) (-45,5.5) (-44.5,8) (-44,6) (-43.5,8.5) (-43,6.5) (-42.5,9) (-42,7) (-41.5,9) (-41,7.5) (-40.5,9.5) (-40,8) (-39.5,10) (-39,8) (-38.5,10) (-38,8.5) (-37.5,10.5) (-37,9) (-36.5,11) (-36,9) (-35.5,11) (-35,9.5) (-34.5,11) (-34,9.5) (-33.5,11.5) (-33,10) (-32.5,12) (-32,10) (-31.5,12) (-31,10) (-30.5,12.5) (-30,10.5) (-29.5,12.5) (-29,10.5) (-28.5,13) (-28,11) (-27.5,13) (-27,10) (-26.5,12) (-26,10) (-25.5,12.5) (-25,9) (-24.5,11) (-24,7) (-23.5,5) (-23,3) (-22,1.5) (-21,0.8) (-18,0.6) (-14,0.5) (-10,0.6) (-6,0.5) (-2,0.7) (-0.5,1.3) (0,2) (0.5,1.3) (2,0.6) (6,0.5) (10,0.5) (14,0.5) (18,0.5) (22,0.5) (26,0.5) (30,0.6) (33,1) (35,2) (36,3) (37,4) (38,5) (39,5.5) (40,5) (41,4) (42,4.5) (43,3) (44,3.5) (45,2) (46,2.5) (47,1) (48,1.5) (49,0.5)};
\addplot[dsh] coordinates {(-51,0.5) (-50,3) (-49,5) (-48,8) (-47,10) (-46,12) (-45,14) (-44,16) (-43,18) (-42,20) (-41,21) (-40,22) (-39,23) (-38.4,25) (-38,24) (-37,22) (-36,21) (-35.3,21) (-35,22) (-34,21) (-33,20) (-32.3,19) (-31,18) (-30,17.5) (-29.2,17) (-28,16) (-27,15) (-26,14.5) (-25,13.5) (-24.7,13.3) (-24,10) (-23,6.7) (-22,4) (-21,2) (-20,1.4) (-18,1) (-14,0.8) (-10,0.8) (-5,0.8) (0,1) (5,0.8) (10,0.8) (15,0.8) (19,1) (20,2) (21,3.8) (21.5,5) (22,4) (22.5,6) (23,5) (23.5,7) (24,6) (24.5,8) (25,7) (25.5,9) (26,8) (26.5,10) (27,9) (27.5,11) (28,10) (28.5,11.5) (29,10) (29.5,11) (30,9.5) (30.5,10.5) (31,9) (31.5,10) (32,8.5) (32.5,9.5) (33,8) (33.5,9) (34,7.5) (34.5,8.5) (35,7) (35.5,8) (36,6.5) (36.5,7.5) (37,6) (37.5,7) (38,5.5) (38.5,6.5) (39,5) (39.5,6) (40,4.5) (40.5,5.5) (41,4) (41.5,5) (42,3.5) (42.5,4.5) (43,3) (43.5,4) (44,2.5) (44.5,3.5) (45,2) (45.5,3) (46,1.5) (46.5,2.5) (47,1) (48,0.8)};
\addplot[dtt] coordinates {(-51,0.5) (-50,1) (-49,1.5) (-48,2) (-47,3) (-46,4) (-45,6) (-44,8) (-43,10) (-42,12) (-41,14) (-40,15) (-39,16) (-38,16.5) (-37,17) (-36,17.5) (-35,17) (-34,16.5) (-33,17) (-32,16) (-31,14) (-30,12) (-29,10) (-28,8) (-27,6) (-26,4) (-25,2.5) (-24,1.5) (-22,1) (-18,0.8) (-14,0.8) (-10,0.8) (-5,0.9) (0,1) (5,0.9) (10,0.9) (15,1) (20,1.5) (22,2.5) (24,4) (26,5) (28,6) (30,7) (32,8) (34,9) (36,10) (38,11) (40,13) (41,16) (42,18) (43,16) (44,17) (45,15) (46,16) (47,14) (48,15.5) (49,14) (50,12)};
\seg{-48.3}{-20.9}{42.6}{below}{ext}
\seg{20.7}{49.9}{42.6}{below}{ext}
\scmark{0.5}
\end{axis}

\begin{axis}[panel, botrow, rightcol, at={(454.4pt,-166.6pt)}, ylabel={Skeleton [\%]}, ylabel shift=-1pt]
\addplot[sol] coordinates {(-50.5,0.5) (-49.5,0.5) (-49,3) (-48.6,9.5) (-48,18) (-47.5,25) (-47,30.5) (-46,32) (-45.5,33) (-44.7,33.3) (-44,33) (-43.2,32.4) (-42.5,29) (-42,26) (-41,22.9) (-40,18) (-39,15) (-38.6,13.3) (-37.5,10) (-36.3,7.6) (-35,5) (-33.3,2.9) (-31,2) (-28.7,1.4) (-26,1.3) (-23,1.5) (-19.5,1.6) (-16,1.5) (-12,1.7) (-9,2) (-7.2,2.9) (-5,2.2) (-4,1.6) (-1,1.5) (2,1.5) (5,1.6) (8,1.7) (11,1.5) (14,1.6) (17,1.8) (20,1.2) (23,1.5) (26,1.8) (29,1.5) (32,1.2) (34,0.8) (37,0.8) (40,1) (43,1.2) (46,1.3) (48,3.8) (48.5,5) (49.5,6)};
\addplot[dsh] coordinates {(-50.5,0.3) (-48,0.5) (-45,0.4) (-42,0.8) (-39,1) (-36,0.6) (-33,0.8) (-30,1) (-27,0.9) (-24,1) (-20,1.3) (-16,1.2) (-12,1.4) (-8,1.5) (-4,1.6) (0,1.5) (4,1.6) (8,1.6) (12,1.7) (16,1.8) (20,1.8) (24,1.8) (28,1.6) (32,1.2) (35,0.8) (37,1) (38.5,2.5) (39.5,4.5) (40.3,5.7) (41.5,8) (42.5,10) (43.4,10.5) (44,11) (45,12) (46,14.3) (46.5,13) (47,8) (47.5,3) (48,2) (48.5,6) (49,10) (49.5,11.4)};
\addplot[dtt] coordinates {(-50.3,0.5) (-49.5,3) (-49,8) (-48.6,11.4) (-48,10) (-47,8) (-46,6) (-45.5,7) (-45,9) (-44,11) (-43,12.5) (-42.5,13.3) (-41.5,12) (-40.5,10.5) (-39.4,9.5) (-38,6) (-37,4) (-36.3,2.9) (-34,1.5) (-31,1) (-28,0.9) (-24,1) (-20,1.1) (-16,1.2) (-12,1.3) (-8,1.4) (-4,1.5) (0,1.5) (4,1.5) (8,1.5) (12,1.4) (16,1.3) (20,1.2) (24,1.2) (28,1.1) (32,1.2) (35,1.5) (37,3) (38.8,7.6) (40,12) (41,16) (41.8,18) (42.5,21) (43.4,21.9) (44.2,20) (45,16) (45.7,11) (46.4,5.7) (47,2) (48,0.8)};
\seg{-48.6}{-34}{42.6}{below}{ext}
\seg{34.5}{49.5}{42.6}{below}{ext}
\scmark{-6.1}
\end{axis}

\node[font=\fontsize{10.6}{12}\selectfont] at (293.35pt,24.25pt) {distance from center [\%]};
\node[font=\fontsize{10.6}{12}\selectfont] at (293.35pt,-270.75pt) {distance from center [\%]};

\pgfresetboundingbox
\path[use as bounding box] (-50pt,34.75pt) rectangle (616.5pt,-279.25pt);
\end{tikzpicture}
\end{document}
